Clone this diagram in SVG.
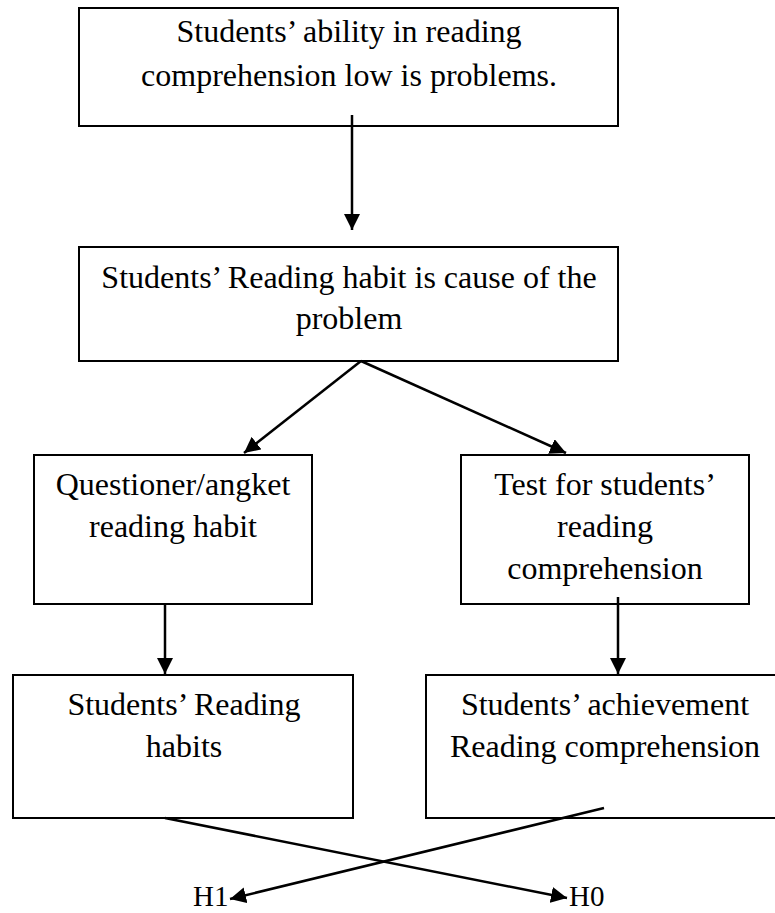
<svg xmlns="http://www.w3.org/2000/svg" width="775" height="913" viewBox="0 0 775 913">
  <style>
    .box { fill: #ffffff; stroke: #000000; stroke-width: 2; }
    .lbl { font-family: 'Liberation Serif', Tinos, 'Times New Roman', Times, 'DejaVu Serif', serif; font-size: 32px; fill: #000000; text-anchor: middle; }
    .h { font-family: 'Liberation Serif', Tinos, 'Times New Roman', Times, 'DejaVu Serif', serif; font-size: 29px; fill: #000000; }
    .edge { stroke: #000000; stroke-width: 2.5; fill: none; marker-end: url(#arrow); }
  </style>
  <defs>
    <marker id="arrow" markerUnits="userSpaceOnUse" markerWidth="17" markerHeight="16" refX="16" refY="8" orient="auto">
      <path d="M0,0 L16,8 L0,16 z" fill="#000000"/>
    </marker>
  </defs>
  <rect width="775" height="913" fill="#ffffff"/>

  <g id="node-problem">
    <rect class="box" x="79" y="8" width="539" height="118"/>
    <text class="lbl" x="349" y="42">Students’ ability in reading</text>
    <text class="lbl" x="349" y="86">comprehension low is problems.</text>
  </g>

  <g id="node-cause">
    <rect class="box" x="79" y="247" width="539" height="114"/>
    <text class="lbl" x="349" y="288">Students’ Reading habit is cause of the</text>
    <text class="lbl" x="349" y="329">problem</text>
  </g>

  <g id="node-questioner">
    <rect class="box" x="34" y="455" width="278" height="149"/>
    <text class="lbl" x="173" y="495">Questioner/angket</text>
    <text class="lbl" x="173" y="537">reading habit</text>
  </g>

  <g id="node-test">
    <rect class="box" x="461" y="455" width="288" height="149"/>
    <text class="lbl" x="605" y="495">Test for students’</text>
    <text class="lbl" x="605" y="537">reading</text>
    <text class="lbl" x="605" y="579">comprehension</text>
  </g>

  <g id="node-habits">
    <rect class="box" x="13" y="675" width="340" height="143"/>
    <text class="lbl" x="184" y="715">Students’ Reading</text>
    <text class="lbl" x="184" y="757">habits</text>
  </g>

  <g id="node-achievement">
    <rect class="box" x="426" y="675" width="360" height="143"/>
    <text class="lbl" x="605" y="715">Students’ achievement</text>
    <text class="lbl" x="605" y="757">Reading comprehension</text>
  </g>

  <g id="node-h1">
    <text class="h" x="193" y="906">H1</text>
  </g>
  <g id="node-h0">
    <text class="h" x="569" y="906">H0</text>
  </g>

  <g id="connectors">
    <line class="edge" x1="352" y1="115" x2="352" y2="230"/>
    <line class="edge" x1="361" y1="361" x2="244" y2="453"/>
    <line class="edge" x1="361" y1="361" x2="566" y2="453"/>
    <line class="edge" x1="165" y1="604" x2="165" y2="674"/>
    <line class="edge" x1="618" y1="597" x2="618" y2="674"/>
    <line class="edge" x1="165" y1="818" x2="567" y2="898"/>
    <line class="edge" x1="604" y1="808" x2="230" y2="899"/>
  </g>
</svg>
